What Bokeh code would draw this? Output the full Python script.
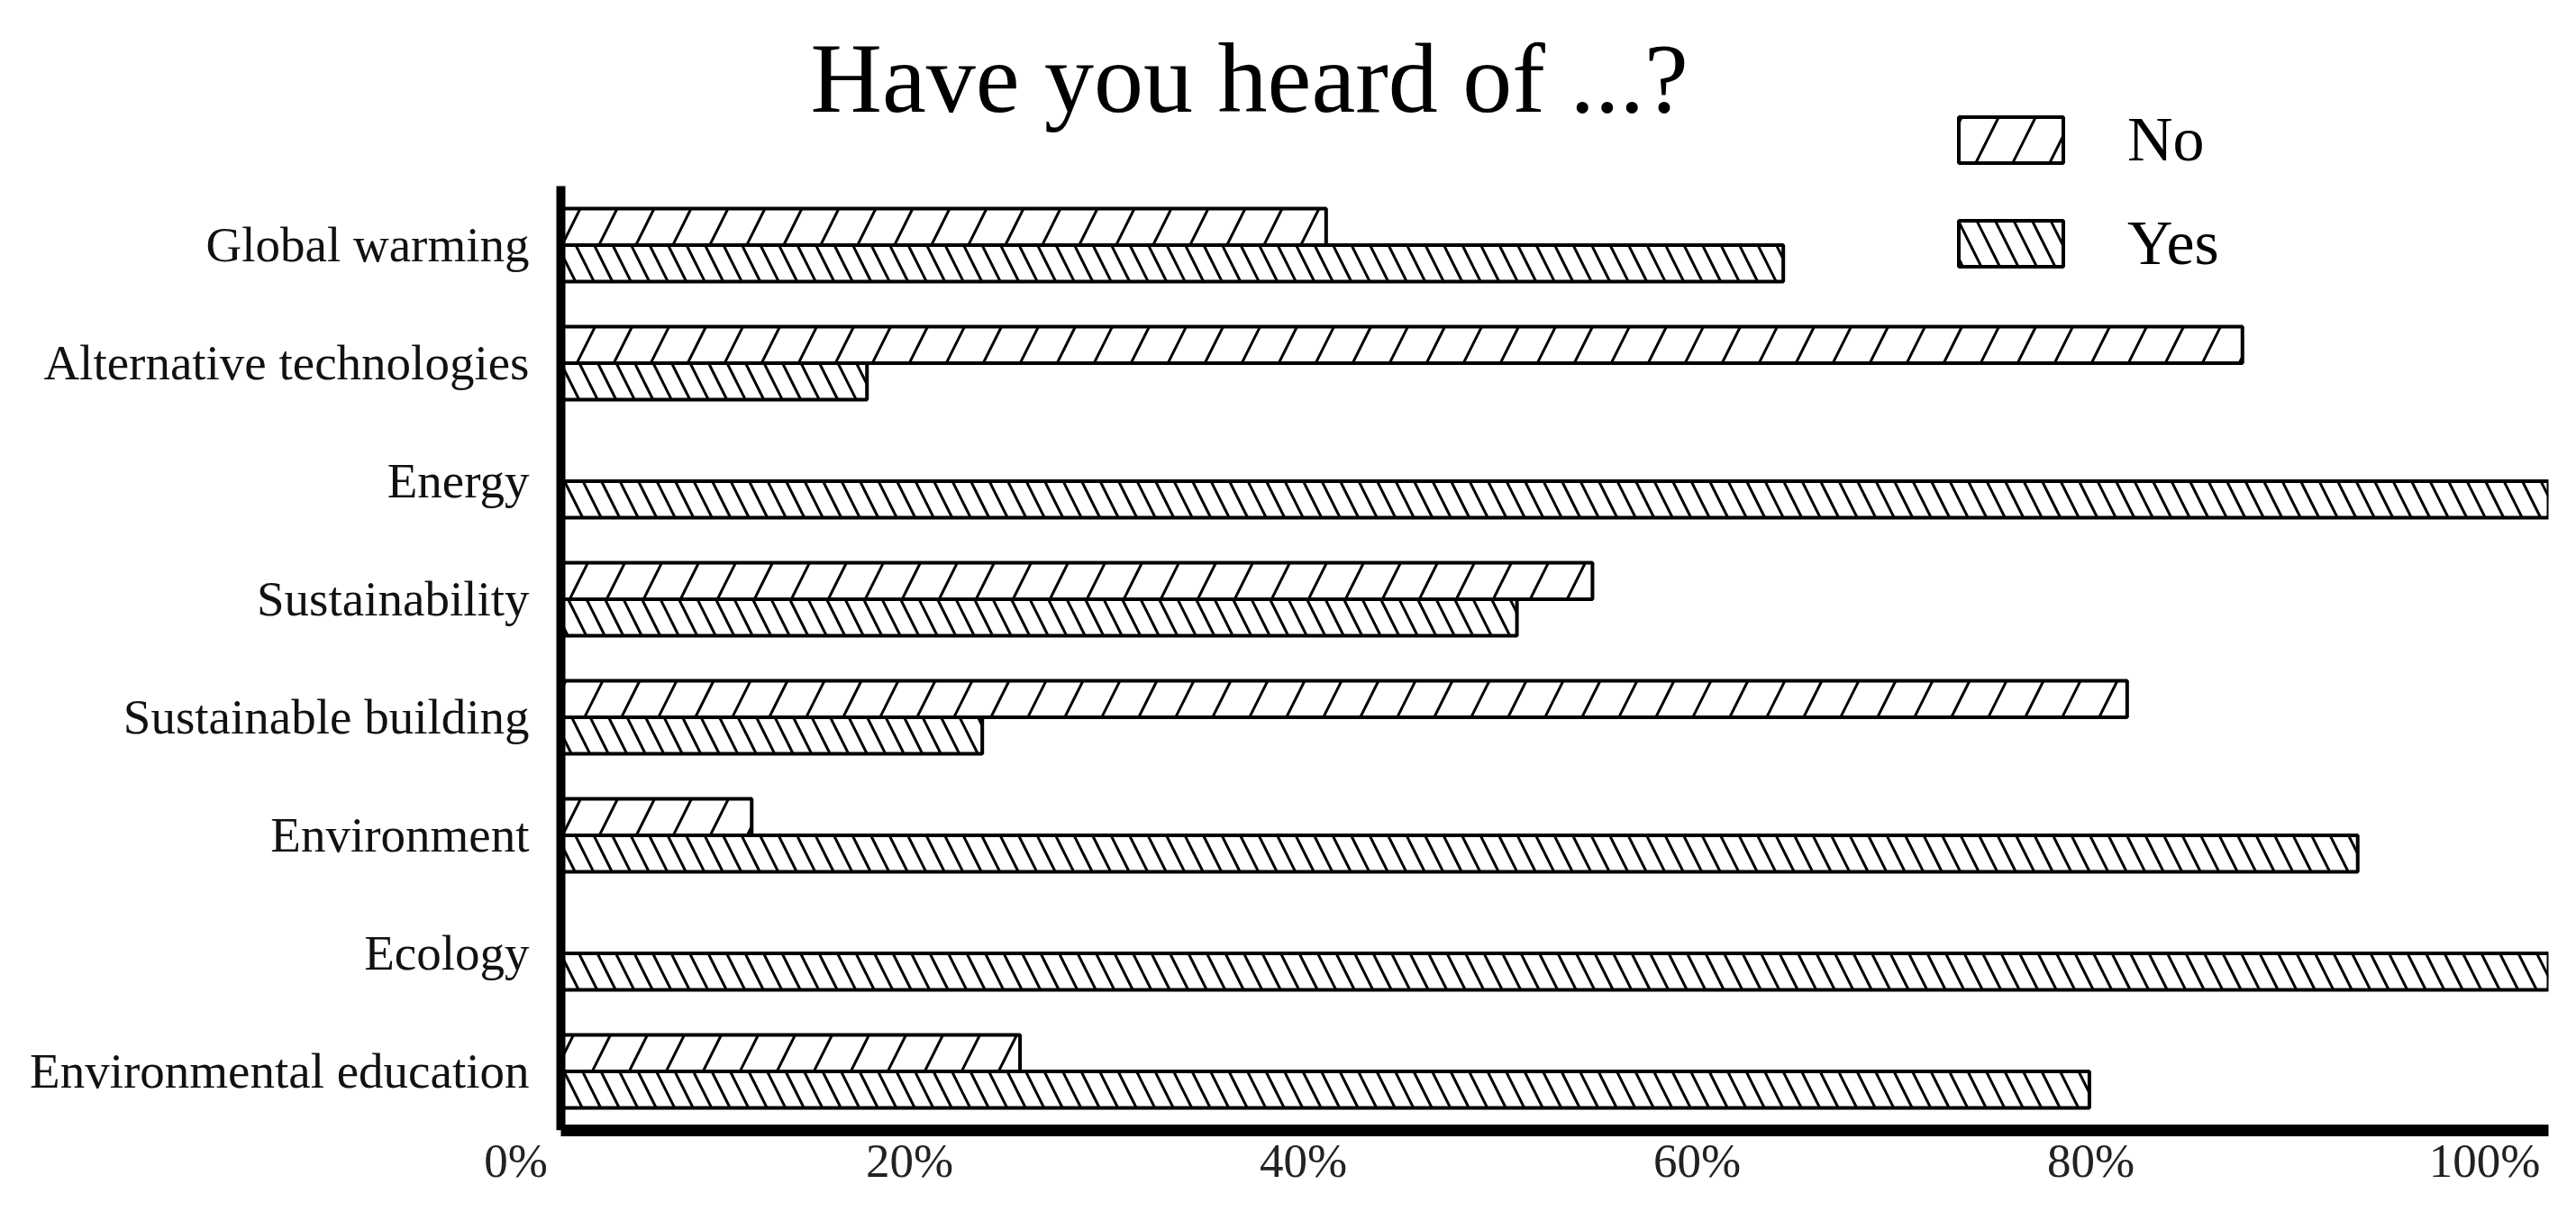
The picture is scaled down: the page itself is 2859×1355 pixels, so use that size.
from bokeh.plotting import figure
from bokeh.models import (ColumnDataSource, Range1d, LinearAxis,
                          FixedTicker, Legend, LegendItem)
from bokeh.transform import dodge
from bokeh.embed import file_html
from bokeh.resources import INLINE

# ---- data ----
categories = ["Global warming", "Alternative technologies", "Energy",
              "Sustainability", "Sustainable building", "Environment",
              "Ecology", "Environmental education"]
no_pct = [38.5, 84.6, 0.0, 51.9, 78.8, 9.6, 0.0, 23.1]
yes_pct = [61.5, 15.4, 100.0, 48.1, 21.2, 90.4, 100.0, 76.9]
series_labels = ["No", "Yes"]
tick_values = [0, 20, 40, 60, 80, 100]
tick_labels = ["0%", "20%", "40%", "60%", "80%", "100%"]
title_text = "Have you heard of ...?"

FONT = "Liberation Serif"

n = len(categories)
ypos = [n - 1 - i for i in range(n)]          # first category on top
src = ColumnDataSource(dict(y=ypos, cat=categories, no=no_pct, yes=yes_pct))

p = figure(width=2851, height=1347,
           x_range=Range1d(-2.267, 100), y_range=Range1d(-0.5, 8.187),
           output_backend="svg", toolbar_location=None,
           min_border_left=572, min_border_right=23,
           min_border_top=116, min_border_bottom=93)

p.outline_line_color = None
p.xgrid.visible = False
p.ygrid.visible = False
p.background_fill_color = "white"
p.border_fill_color = "white"

common = dict(source=src, left=0, height=0.31, fill_color="white",
              line_color="black", line_width=4, hatch_color="black",
              hatch_weight=3)
r_no = p.hbar(y=dodge("y", 0.155), right="no",
              hatch_pattern="/", hatch_scale=82, **common)
r_yes = p.hbar(y=dodge("y", -0.155), right="yes",
               hatch_pattern="\\", hatch_scale=41, **common)

# y axis: category labels
yax = p.yaxis[0]
yax.ticker = FixedTicker(ticks=ypos)
yax.major_label_overrides = {y: c for y, c in zip(ypos, categories)}
yax.axis_line_color = None
yax.major_tick_line_color = None
yax.minor_tick_line_color = None
yax.major_tick_out = 0
yax.minor_tick_out = 0
yax.major_label_standoff = -15
yax.major_label_text_font = FONT
yax.major_label_text_font_size = "55px"
yax.major_label_text_color = "#111111"

# y axis line at x = 0, spanning the categories only
yline = LinearAxis(fixed_location=0, ticker=FixedTicker(ticks=[]),
                   bounds=(min(ypos) - 0.5, max(ypos) + 0.5),
                   axis_line_width=10, axis_line_color="black",
                   major_tick_line_color=None, minor_tick_line_color=None,
                   major_tick_out=0, minor_tick_out=0, major_label_standoff=0)
p.add_layout(yline, "left")

# main x axis: thick base line from 0 to 100
xax = p.xaxis[0]
xax.ticker = FixedTicker(ticks=[])
xax.bounds = (0, 100)
xax.axis_line_width = 13
xax.axis_line_color = "black"
xax.major_tick_line_color = None
xax.minor_tick_line_color = None
xax.major_tick_out = 0
xax.minor_tick_out = 0
xax.major_label_standoff = 0

# percent labels, placed as in the reference
p.extra_x_ranges = {"lab": Range1d(0, 103.25)}
lab_axis = LinearAxis(x_range_name="lab",
                      ticker=FixedTicker(ticks=tick_values),
                      major_label_overrides={v: s for v, s in zip(tick_values, tick_labels)},
                      axis_line_color=None,
                      major_tick_line_color=None, minor_tick_line_color=None,
                      major_tick_out=0, minor_tick_out=0,
                      major_label_standoff=4,
                      major_label_text_font=FONT,
                      major_label_text_font_size="53px",
                      major_label_text_color="#222222")
p.add_layout(lab_axis, "below")

# legend
legend = Legend(items=[LegendItem(label=series_labels[0], renderers=[r_no]),
                       LegendItem(label=series_labels[1], renderers=[r_yes])],
                location=(1587, 944), glyph_width=145, glyph_height=64,
                label_height=51, spacing=35, label_standoff=57,
                padding=0, margin=0, border_line_color=None,
                background_fill_alpha=0,
                label_text_font=FONT, label_text_font_size="70px",
                label_text_color="black")
p.add_layout(legend)

# title
p.title.text = title_text
p.title.text_font = FONT
p.title.text_font_size = "110px"
p.title.text_font_style = "normal"
p.title.text_color = "black"
p.title.align = "left"
p.title.offset = 327
p.title.standoff = -62

open("out.html", "w").write(file_html(p, INLINE))
